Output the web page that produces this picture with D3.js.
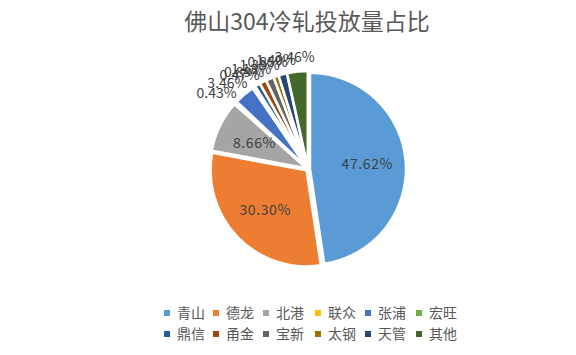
<!DOCTYPE html>
<html><head><meta charset="utf-8">
<script src="https://cdn.jsdelivr.net/npm/d3@7"></script>
<style>body{margin:0;background:#fff;font-family:"Noto Sans CJK SC","Noto Sans",sans-serif;}</style>
</head><body>
<svg id="c" width="576" height="355"></svg>
<script>
const title = "佛山304冷轧投放量占比";
const categories = ["青山","德龙","北港","联众","张浦","宏旺","鼎信","甬金","宝新","太钢","天管","其他"];
const values = [47.62, 30.30, 8.66, 0.43, 3.46, 0.47, 0.89, 1.13, 1.33, 0.85, 1.40, 3.46];
const colors = ["#5B9BD5","#ED7D31","#A5A5A5","#FFC000","#4472C4","#70AD47","#255E91","#9E480E","#636363","#997300","#264478","#43682B"];

const svg = d3.select("#c");
svg.append("rect").attr("width",576).attr("height",355).attr("fill","#fff");
svg.append("text").attr("x",307).attr("y",30).attr("text-anchor","middle")
  .attr("font-size",23).attr("fill","#595959").text(title);

const cx = 308, cy = 169, r = 96;
const pie = d3.pie().sort(null).value(d=>d.v);
const data = pie(categories.map((c,i)=>({c, v:values[i], col:colors[i]})));
const arc = d3.arc().innerRadius(0).outerRadius(r);
const g = svg.append("g").attr("transform",`translate(${cx},${cy})`);
g.selectAll("path").data(data).enter().append("path")
  .attr("d",arc).attr("fill",d=>d.data.col)
  .attr("stroke","#fff").attr("stroke-width",2.5)
  .attr("transform",d=>{const a=(d.startAngle+d.endAngle)/2; const off=2; return `translate(${off*Math.sin(a)},${-off*Math.cos(a)})`;});

const fmt = v => v.toFixed(2)+"%";
data.forEach(d=>{
  const a=(d.startAngle+d.endAngle)/2;
  const v=d.data.v;
  if (v>5){
    const rr = r*0.62;
    g.append("text").attr("x",rr*Math.sin(a)).attr("y",-rr*Math.cos(a)).attr("dy","0.35em")
      .attr("text-anchor","middle").attr("font-size",14).attr("letter-spacing",0.6).attr("fill","#404040").text(fmt(v));
  } else {
    const R = r+10;
    const w = 36, h = 14;
    const px = R*Math.sin(a) + (w/2)*Math.sin(a);
    const py = -R*Math.cos(a) - (h/2)*Math.cos(a);
    g.append("text").attr("x",px).attr("y",py).attr("dy","0.35em")
      .attr("text-anchor","middle").attr("font-size",14).attr("fill","#404040").text(fmt(v));
  }
});

// legend
const cols = [167,216,266,318,368,419];
const rows = [313,334];
const lg = svg.append("g");
categories.forEach((c,i)=>{
  const x = cols[i%6], y = rows[Math.floor(i/6)];
  lg.append("rect").attr("x",x-3).attr("y",y-3).attr("width",6).attr("height",6).attr("fill",colors[i]);
  lg.append("text").attr("x",x+10).attr("y",y).attr("dy","0.36em").attr("font-size",14).attr("fill","#595959").text(c);
});
</script>
</body></html>
